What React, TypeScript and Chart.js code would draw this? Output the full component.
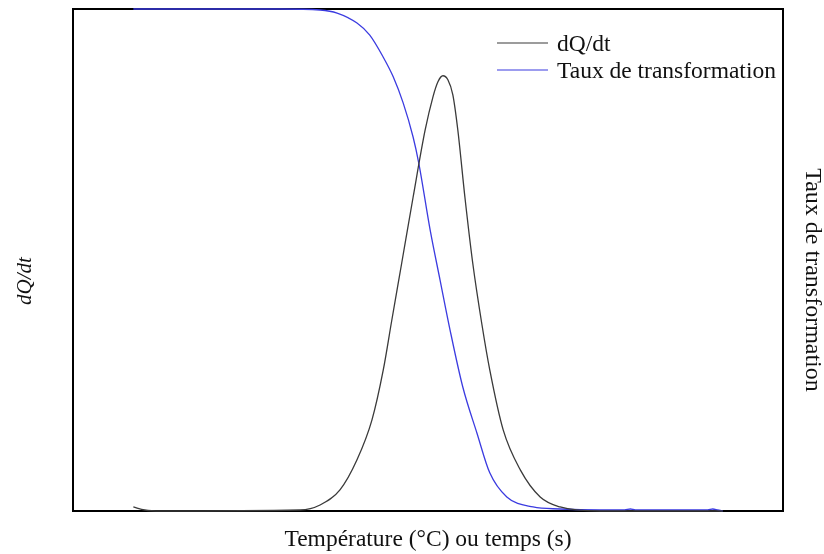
import React, { useEffect, useRef } from "react";
import { Chart, registerables } from "chart.js";

Chart.register(...registerables);

// Transformation rate (Taux de transformation), normalized 0..1
const tauxX = [8.5, 17.9, 29.2, 34.8, 37.2, 40.0, 41.8, 43.7, 45.1, 46.5, 47.9, 48.7, 50.3, 51.7, 53.1, 54.9, 56.9, 58.7, 61.1, 64.8, 68.6, 74.2, 77.7, 78.5, 79.2, 85.5, 89.4, 90.1, 90.8, 91.5];
const tauxY = [1.0, 1.0, 1.0, 0.998, 0.992, 0.972, 0.948, 0.904, 0.865, 0.813, 0.745, 0.693, 0.56, 0.46, 0.361, 0.247, 0.155, 0.076, 0.028, 0.008, 0.004, 0.002, 0.002, 0.004, 0.002, 0.002, 0.002, 0.004, 0.002, 0.0];

// Heat flow dQ/dt, normalized 0..1
const dqX = [8.5, 10.1, 12.3, 32.0, 34.8, 37.6, 40.0, 42.1, 43.7, 44.9, 46.3, 47.9, 49.6, 50.7, 51.4, 52.1, 52.8, 53.5, 54.2, 55.2, 56.3, 57.6, 58.7, 60.6, 63.0, 65.8, 68.6, 74.2, 91.5];
const dqY = [0.008, 0.002, 0.0, 0.002, 0.012, 0.042, 0.102, 0.181, 0.281, 0.38, 0.494, 0.625, 0.759, 0.825, 0.855, 0.867, 0.859, 0.829, 0.759, 0.625, 0.494, 0.371, 0.281, 0.161, 0.082, 0.028, 0.008, 0.0, 0.0];

const seriesLabels = ["dQ/dt", "Taux de transformation"];
const xTitle = "Température (°C) ou temps (s)";
const yLeftTitle = "dQ/dt";
const yRightTitle = "Taux de transformation";

const FONT = "'Liberation Serif', 'Times New Roman', serif";

const framePlugin = {
  id: "frame",
  beforeDatasetsDraw(chart: any) {
    const { ctx, chartArea } = chart;
    ctx.save();
    ctx.strokeStyle = "#000";
    ctx.lineWidth = 2;
    ctx.strokeRect(chartArea.left, chartArea.top, chartArea.right - chartArea.left, chartArea.bottom - chartArea.top);
    ctx.restore();
  },
};

const sideTitlesPlugin = {
  id: "sideTitles",
  afterDraw(chart: any) {
    const { ctx, chartArea } = chart;
    const cy = (chartArea.top + chartArea.bottom) / 2 + 21;
    ctx.save();
    ctx.fillStyle = "#111";
    ctx.textAlign = "center";
    ctx.textBaseline = "middle";
    // left title
    ctx.save();
    ctx.translate(25, cy);
    ctx.rotate(-Math.PI / 2);
    ctx.font = `italic 21px ${FONT}`;
    ctx.fillText(yLeftTitle, 0, 0);
    ctx.restore();
    // right title
    ctx.save();
    ctx.translate(chart.width - 12, cy - 1);
    ctx.rotate(Math.PI / 2);
    ctx.font = `24px ${FONT}`;
    ctx.fillText(yRightTitle, 0, 0);
    ctx.restore();
    ctx.restore();
  },
};

const legendPlugin = {
  id: "innerLegend",
  afterDraw(chart: any) {
    const { ctx, chartArea } = chart;
    ctx.save();
    ctx.font = `23.5px ${FONT}`;
    ctx.textBaseline = "middle";
    ctx.textAlign = "left";
    chart.data.datasets.forEach((ds: any, i: number) => {
      const y = chartArea.top + 34 + i * 27;
      const x0 = chartArea.right - 286;
      ctx.strokeStyle = ds.borderColor;
      ctx.lineWidth = 1.2;
      ctx.beginPath();
      ctx.moveTo(x0, y);
      ctx.lineTo(x0 + 51, y);
      ctx.stroke();
      ctx.fillStyle = "#111";
      ctx.fillText(ds.label, x0 + 60, y + 2);
    });
    ctx.restore();
  },
};

export default function App() {
  const ref = useRef<HTMLCanvasElement>(null);
  useEffect(() => {
    document.body.style.margin = "0";
    const chart = new Chart(ref.current!, {
      type: "line",
      data: {
        datasets: [
          {
            label: seriesLabels[0],
            data: dqX.map((x, i) => ({ x, y: dqY[i] })),
            borderColor: "#3a3a3a",
            borderWidth: 1.3,
            pointRadius: 0,
            cubicInterpolationMode: "monotone",
            yAxisID: "y",
            clip: false as any,
          },
          {
            label: seriesLabels[1],
            data: tauxX.map((x, i) => ({ x, y: tauxY[i] })),
            borderColor: "#3b3be0",
            borderWidth: 1.3,
            pointRadius: 0,
            cubicInterpolationMode: "monotone",
            yAxisID: "y2",
            clip: false as any,
          },
        ],
      },
      options: {
        responsive: false,
        animation: false,
        layout: { padding: { top: 9, left: 0, right: 0, bottom: 0 } },
        plugins: { legend: { display: false }, tooltip: { enabled: false } },
        scales: {
          x: {
            type: "linear",
            min: 0,
            max: 100,
            grid: { display: false },
            border: { display: false },
            ticks: { display: false },
            title: { display: true, text: xTitle, color: "#111", font: { family: FONT, size: 23.5 }, padding: { top: 0, bottom: 0 } },
            afterFit(scale: any) { scale.height = 43; },
          },
          y: {
            position: "left",
            min: 0,
            max: 1,
            grid: { display: false },
            border: { display: false },
            ticks: { display: false },
            title: { display: false, text: yLeftTitle },
            afterFit(scale: any) { scale.width = 73; },
          },
          y2: {
            position: "right",
            min: 0,
            max: 1,
            grid: { display: false },
            border: { display: false },
            ticks: { display: false },
            title: { display: false, text: yRightTitle },
            afterFit(scale: any) { scale.width = 41; },
          },
        },
      },
      plugins: [framePlugin, legendPlugin, sideTitlesPlugin],
    });
    return () => chart.destroy();
  }, []);
  return (
    <div style={{ width: 824, height: 554 }}>
      <canvas ref={ref} width={824} height={554} style={{ display: "block" }} />
    </div>
  );
}
